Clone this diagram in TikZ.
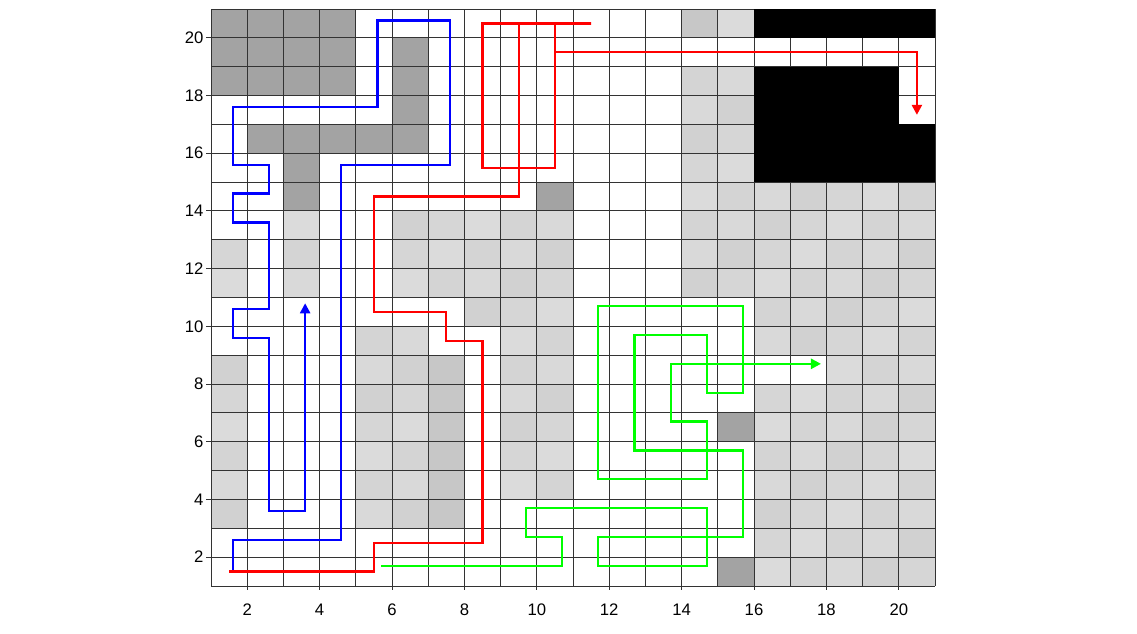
\documentclass[tikz,border=0pt]{standalone}
\usepackage{fontspec}
\setmainfont{Liberation Sans}
\usetikzlibrary{arrows.meta}
\begin{document}
\begin{tikzpicture}[x=0.724cm,y=0.577cm,
  pathline/.style={line width=1.3pt, line join=miter},
  tipped/.style={-{Triangle[length=2mm,width=2mm]}},
  dkcell/.style={fill=black!36},
  mdcell/.style={fill=black!22},
  gridln/.style={draw=black!80, line width=0.55pt},
  ticklabel/.style={font=\fontsize{9.5}{11}\selectfont, inner sep=0pt}]
\useasboundingbox (-4.829,-0.664) rectangle (26.580,21.312);
% light gray cells (slightly varying shades)
\foreach \r/\cs in {20/{15},18/{14,15},17/{14,15},16/{14,15},15/{14,15},
  14/{14,15,16,17,18,19,20},
  13/{3,6,7,8,9,10,14,15,16,17,18,19,20},
  12/{1,3,6,7,8,9,10,14,15,16,17,18,19,20},
  11/{1,3,6,7,8,9,10,14,15,16,17,18,19,20},
  10/{8,9,10,16,17,18,19,20},
  9/{5,6,9,10,16,17,18,19,20},
  8/{1,5,6,9,10,18,19,20},
  7/{1,5,6,9,10,16,17,18,19,20},
  6/{1,5,6,9,10,16,17,18,19,20},
  5/{1,5,6,9,10,16,17,18,19,20},
  4/{1,5,6,9,10,16,17,18,19,20},
  3/{1,5,6,16,17,18,19,20},
  2/{16,17,18,19,20},
  1/{16,17,18,19,20}}{
  \foreach \c in \cs {
    \pgfmathtruncatemacro{\shade}{14+mod(3*\c+7*\r,5)}
    \fill[black!\shade] (\c,\r) rectangle ++(1,1);
  }
}
% medium gray cells
\foreach \c/\r in {7/3,7/4,7/5,7/6,7/7,7/8,14/20}
  \fill[mdcell] (\c,\r) rectangle ++(1,1);
% dark gray cells
\foreach \c/\r in {1/20,2/20,3/20,4/20,1/19,2/19,3/19,4/19,6/19,
  1/18,2/18,3/18,4/18,6/18,6/17,2/16,3/16,4/16,5/16,6/16,
  3/15,3/14,10/14,15/6,15/1}
  \fill[dkcell] (\c,\r) rectangle ++(1,1);
% grid and frame
\foreach \k in {1,...,21}{
  \draw[gridln] (\k,1) -- (\k,21);
  \draw[gridln] (1,\k) -- (21,\k);
}
% black regions (solid, over the grid)
\fill[black] (16,20) rectangle (21,21);
\fill[black] (16,17) rectangle (20,19);
\fill[black] (16,15) rectangle (21,17);
% ticks and labels
\foreach \v in {2,4,...,20}{
  \draw[gridln] (1,\v) -- (0.87,\v);
  \draw[gridln] (\v,1) -- (\v,0.86);
  \node[ticklabel, anchor=east] (yl\v) at (0.80,\v) {\v};
  \node[ticklabel, anchor=center] (xl\v) at (\v,0.17) {\v};
}
% blue path
\draw[pathline, blue, tipped] (1.6,1.5) -- (1.6,2.6) -- (4.6,2.6) -- (4.6,15.6)
  -- (7.6,15.6) -- (7.6,20.6) -- (5.6,20.6) -- (5.6,17.6) -- (1.6,17.6)
  -- (1.6,15.6) -- (2.6,15.6) -- (2.6,14.6) -- (1.6,14.6) -- (1.6,13.6)
  -- (2.6,13.6) -- (2.6,10.6) -- (1.6,10.6) -- (1.6,9.6) -- (2.6,9.6)
  -- (2.6,3.6) -- (3.6,3.6) -- (3.6,10.8);
% red path
\draw[pathline, red, tipped] (1.5,1.5) -- (5.5,1.5) -- (5.5,2.5) -- (8.5,2.5)
  -- (8.5,9.5) -- (7.5,9.5) -- (7.5,10.5) -- (5.5,10.5) -- (5.5,14.5)
  -- (9.5,14.5) -- (9.5,20.5) -- (11.5,20.5) -- (8.5,20.5) -- (8.5,15.5)
  -- (10.5,15.5) -- (10.5,20.5) -- (10.5,19.5) -- (20.5,19.5) -- (20.5,17.33);
% green path
\draw[pathline, green, tipped] (5.7,1.7) -- (10.7,1.7) -- (10.7,2.7) -- (9.7,2.7)
  -- (9.7,3.7) -- (14.7,3.7) -- (14.7,1.7) -- (11.7,1.7) -- (11.7,2.7)
  -- (15.7,2.7) -- (15.7,5.7) -- (12.7,5.7) -- (12.7,9.7) -- (14.7,9.7)
  -- (14.7,7.7) -- (15.7,7.7) -- (15.7,10.7) -- (11.7,10.7) -- (11.7,4.7)
  -- (14.7,4.7) -- (14.7,6.7) -- (13.7,6.7) -- (13.7,8.7) -- (17.85,8.7);
\end{tikzpicture}
\end{document}
